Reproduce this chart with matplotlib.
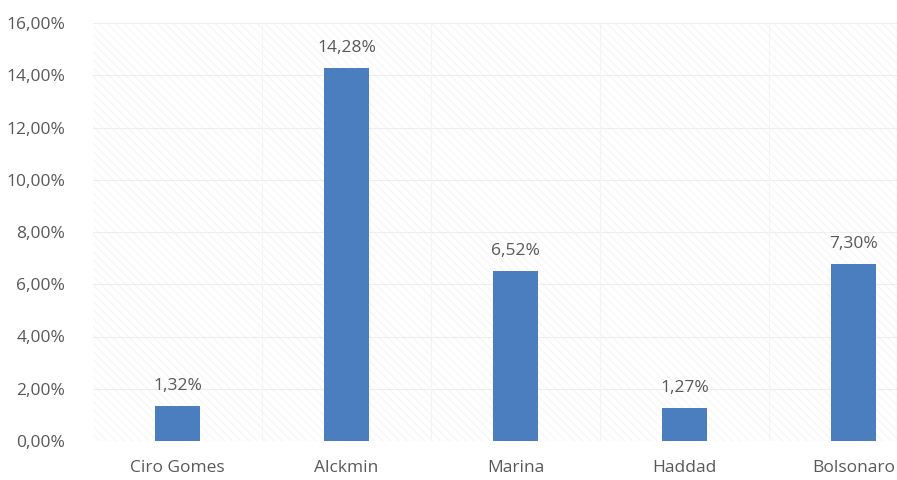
import numpy as np
import matplotlib.pyplot as plt
from matplotlib.patches import Rectangle

candidatos = ["Ciro Gomes", "Alckmin", "Marina", "Haddad", "Bolsonaro"]
valores = [1.35, 14.28, 6.52, 1.27, 6.78]
rotulos = ["1,32%", "14,28%", "6,52%", "1,27%", "7,30%"]
yticks = [0, 2, 4, 6, 8, 10, 12, 14, 16]

plt.rcParams['font.family'] = ['Open Sans', 'DejaVu Sans']
cinza = '#595959'

fig = plt.figure(figsize=(8.97, 4.8), dpi=100)
ax = fig.add_axes([93 / 897, 1 - 441 / 480, 845 / 897, 418 / 480])

x = np.arange(len(candidatos))
ax.set_xlim(-0.5, len(candidatos) - 0.5)
ax.set_ylim(0, 16)

# fundo hachurado bem claro
bg = Rectangle((0, 0), 1, 1, transform=ax.transAxes, facecolor='white',
               edgecolor='#f7f7f7', hatch='\\\\\\\\', linewidth=0, zorder=0)
ax.add_patch(bg)

for y in yticks:
    ax.axhline(y, color='#eeeeee', linewidth=0.8, zorder=1)
for b in np.arange(0.5, len(candidatos) - 0.5, 1):
    ax.axvline(b, color='#f4f4f4', linewidth=0.8, zorder=1)

ax.bar(x, valores, width=0.27, color='#4a7ebf', zorder=3)
for xi, v, r in zip(x, valores, rotulos):
    ax.text(xi, v + 0.45, r, ha='center', va='bottom', fontsize=12.5, color=cinza)

ax.set_xticks(x)
ax.set_xticklabels(candidatos, fontsize=12.5, color=cinza)
ax.set_yticks(yticks)
ax.set_yticklabels([f"{y},00%" for y in yticks], fontsize=12.5, color=cinza)
ax.tick_params(length=0)
ax.tick_params(axis='y', pad=20)
ax.tick_params(axis='x', pad=14)
for s in ax.spines.values():
    s.set_visible(False)

fig.savefig('out.png', dpi=100)
